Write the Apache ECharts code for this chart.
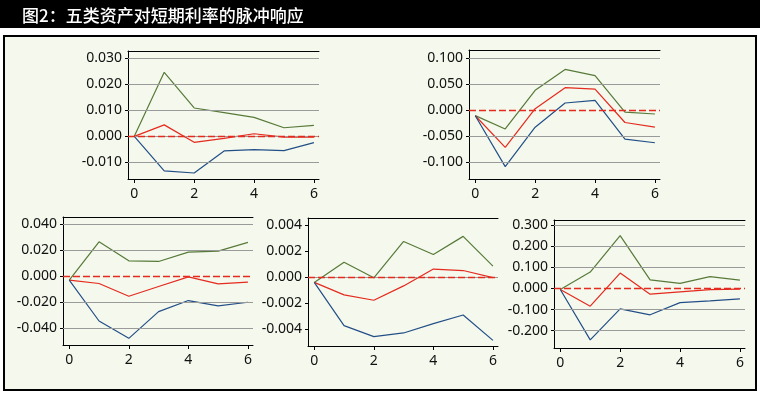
<!DOCTYPE html>
<html>
<head>
<meta charset="utf-8">
<script src="https://cdn.jsdelivr.net/npm/echarts@6/dist/echarts.min.js"></script>
<style>
html,body{margin:0;padding:0;background:#fff;}
#chart{width:760px;height:394px;}
</style>
</head>
<body>
<div id="chart"></div>
<script>
// ---- data ----
const titleText = '图2：五类资产对短期利率的脉冲响应';
const periods = [0, 1, 2, 3, 4, 5, 6];
const xTickValues = [0, 2, 4, 6];

const p1Green = [0, 0.0246, 0.0109, 0.0091, 0.0073, 0.0033, 0.0042];
const p1Red   = [0, 0.0044, -0.0023, -0.0008, 0.0010, -0.0003, -0.0003];
const p1Blue  = [0, -0.0133, -0.0141, -0.0056, -0.0051, -0.0055, -0.0024];
const p1Ticks = [-0.010, 0.000, 0.010, 0.020, 0.030];
const p1Range = [-0.0164, 0.0328];

const p2Green = [-0.0109, -0.0365, 0.0378, 0.0780, 0.0660, -0.0040, -0.0077];
const p2Red   = [-0.0110, -0.0720, 0.0026, 0.0430, 0.0400, -0.0240, -0.0330];
const p2Blue  = [-0.0110, -0.1090, -0.0330, 0.0135, 0.0186, -0.0560, -0.0630];
const p2Ticks = [-0.100, -0.050, 0.000, 0.050, 0.100];
const p2Range = [-0.1327, 0.1154];

const p3Green = [-0.0030, 0.0264, 0.0118, 0.0113, 0.0185, 0.0192, 0.0259];
const p3Red   = [-0.0030, -0.0056, -0.0154, -0.0079, -0.0005, -0.0059, -0.0046];
const p3Blue  = [-0.0030, -0.0344, -0.0477, -0.0272, -0.0187, -0.0228, -0.0200];
const p3Ticks = [-0.040, -0.020, 0.000, 0.020, 0.040];
const p3Range = [-0.0528, 0.0454];

const p4Green = [-0.00040, 0.00115, -0.00005, 0.00274, 0.00174, 0.00313, 0.00085];
const p4Red   = [-0.00040, -0.00136, -0.00177, -0.00067, 0.00062, 0.00051, -0.00003];
const p4Blue  = [-0.00040, -0.00372, -0.00456, -0.00428, -0.00356, -0.00290, -0.00485];
const p4Ticks = [-0.004, -0.002, 0.000, 0.002, 0.004];
const p4Range = [-0.00528, 0.00454];

const p5Green = [-0.005, 0.078, 0.251, 0.041, 0.024, 0.056, 0.040];
const p5Red   = [-0.005, -0.084, 0.073, -0.027, -0.016, -0.005, -0.003];
const p5Blue  = [-0.005, -0.244, -0.097, -0.125, -0.067, -0.059, -0.049];
const p5Ticks = [-0.200, -0.100, 0.000, 0.100, 0.200, 0.300];
const p5Range = [-0.2825, 0.325];

const xRange = [-0.21, 6.17];

// ---- layout / style (not data) ----
const panels = [
  {green: p1Green, red: p1Red, blue: p1Blue, ticks: p1Ticks, range: p1Range, grayZero: true,
   grid: {left: 128, top: 51, width: 191, height: 128}},
  {green: p2Green, red: p2Red, blue: p2Blue, ticks: p2Ticks, range: p2Range, grayZero: false,
   grid: {left: 469, top: 50, width: 191, height: 129}},
  {green: p3Green, red: p3Red, blue: p3Blue, ticks: p3Ticks, range: p3Range, grayZero: false,
   grid: {left: 63, top: 217, width: 190, height: 128}},
  {green: p4Green, red: p4Red, blue: p4Blue, ticks: p4Ticks, range: p4Range, grayZero: false,
   grid: {left: 308, top: 218, width: 190, height: 128}},
  {green: p5Green, red: p5Red, blue: p5Blue, ticks: p5Ticks, range: p5Range, grayZero: false,
   grid: {left: 554, top: 220, width: 191, height: 128}}
];

const GREEN = '#577a3a', RED = '#e52a1f', BLUE = '#234f88';
const GRID_GRAY = '#9a9a9a';
const BG = '#f5f8ec';
const FONT = 'Noto Sans';

const grids = [], xAxes = [], yAxes = [], series = [];

function pairs(vals) { return periods.map((p, i) => [p, vals[i]]); }

panels.forEach((pn, i) => {
  grids.push(Object.assign({containLabel: false}, pn.grid));
  xAxes.push({
    type: 'value', gridIndex: i, position: 'bottom', min: xRange[0], max: xRange[1],
    axisLine: {show: true, onZero: false, lineStyle: {color: '#000', width: 1}},
    axisTick: {show: true, length: 4, lineStyle: {color: '#000'}, customValues: xTickValues},
    axisLabel: {show: true, customValues: xTickValues, margin: 8, color: '#111',
      fontFamily: FONT, fontSize: 14, formatter: v => String(Math.round(v))},
    splitLine: {show: false}
  });
  xAxes.push({
    type: 'value', gridIndex: i, position: 'top', min: xRange[0], max: xRange[1],
    axisLine: {show: true, onZero: false, lineStyle: {color: '#000', width: 1}},
    axisTick: {show: false}, axisLabel: {show: false}, splitLine: {show: false}
  });
  yAxes.push({
    type: 'value', gridIndex: i, min: pn.range[0], max: pn.range[1],
    axisLine: {show: true, onZero: false, lineStyle: {color: '#000', width: 1}},
    axisTick: {show: true, length: 3, lineStyle: {color: '#000'}, customValues: pn.ticks},
    axisLabel: {show: true, customValues: pn.ticks, margin: 6, color: '#111',
      fontFamily: FONT, fontSize: 14, formatter: v => v.toFixed(3)},
    splitLine: {show: false}
  });
  const xb = i * 2;
  const gridLines = pn.ticks.filter(t => pn.grayZero || Math.abs(t) > 1e-12).map(t => ({yAxis: t}));
  series.push({
    type: 'line', xAxisIndex: xb, yAxisIndex: i, data: [], z: 1, silent: true,
    markLine: {
      silent: true, symbol: 'none', label: {show: false}, animation: false,
      lineStyle: {color: GRID_GRAY, width: 1, type: 'solid'},
      emphasis: {disabled: true},
      data: gridLines
    }
  });
  series.push({
    type: 'line', xAxisIndex: xb, yAxisIndex: i, data: [], z: 2, silent: true,
    markLine: {
      silent: true, symbol: 'none', label: {show: false}, animation: false,
      lineStyle: {color: RED, width: 1.3, type: [7, 3], opacity: 1},
      emphasis: {disabled: true},
      data: [{yAxis: 0}]
    }
  });
  [[pn.green, GREEN], [pn.red, RED], [pn.blue, BLUE]].forEach(([vals, col]) => {
    series.push({
      type: 'line', xAxisIndex: xb, yAxisIndex: i, data: pairs(vals), z: 3,
      symbol: 'none', smooth: false, animation: false,
      lineStyle: {color: col, width: 1.2}
    });
  });
});

const chart = echarts.init(document.getElementById('chart'), null, {renderer: 'canvas'});
chart.setOption({
  animation: false,
  backgroundColor: '#ffffff',
  graphic: [
    {type: 'rect', z: -10, shape: {x: 0, y: 0, width: 760, height: 28}, style: {fill: '#000'}},
    {type: 'text', z: -9, x: 22, y: 16, style: {text: titleText, fill: '#fff',
      font: '500 17px "Noto Sans CJK SC"', verticalAlign: 'middle'}},
    {type: 'rect', z: -10, shape: {x: 4, y: 36, width: 752, height: 354},
      style: {fill: BG, stroke: '#000', lineWidth: 2}}
  ],
  grid: grids,
  xAxis: xAxes,
  yAxis: yAxes,
  series: series
});
</script>
</body>
</html>
